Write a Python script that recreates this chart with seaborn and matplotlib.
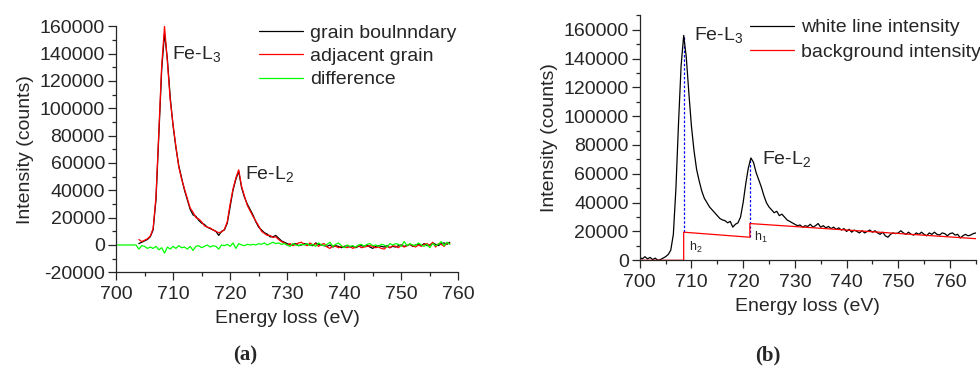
import numpy as np
import pandas as pd
import matplotlib
matplotlib.use("Agg")
import matplotlib.pyplot as plt
from matplotlib.ticker import AutoMinorLocator, MultipleLocator
import seaborn as sns

# ---------------- data (intensity in thousands of counts, 0.5 eV steps) ----------------
# panel (a): spectra from 704.0 eV to 758.5 eV
grain_boundary = [
    1, 2, 3, 4, 6, 11, 33, 80, 128, 155,
    136, 108, 87, 71, 58, 49, 40, 33, 26, 22,
    21, 18, 16, 15, 13, 12, 11, 10, 7, 10,
    11, 16, 28, 40, 48, 54, 42, 35, 30, 26,
    22, 17, 13, 11, 9, 8, 6, 6, 7, 5,
    3, 2, 1, 0, 0.5, 1, -0.5, 0, 1, 0.5,
    0, -0.5, 1.5, 0.5, 0, -0.5, -1, 0, -1.5, -0.5,
    -1, -2, -1, -0.5, -1.5, -1, -2, -1, -0.5, -1,
    0, -1.5, -2.5, -1, -0.5, -1, -1.5, -0.5, -2, -1,
    -1.5, -0.5, 0, -1, -0.5, 0.5, -1, 0, 0.5, -0.5,
    1, -0.5, 0, 1.5, 0.5, -0.5, 1, 1.5, 0.5, 2,
]
adjacent_grain = [
    4, 2.5, 3.5, 4.5, 6.5, 12, 35, 83, 131, 160,
    134, 106, 88, 72, 57, 48, 41, 34, 27, 24,
    20, 19, 17, 14, 13, 12.5, 11, 10, 9, 9.5,
    11.5, 17, 30, 41, 49, 55, 43, 36, 29, 25,
    21, 17.5, 14, 10, 8.5, 7, 7, 5.5, 6, 4,
    2.5, 1.5, 0, 1, -0.5, 0.5, 1.5, 2, 0.5, -0.5,
    1.5, 0, 1, -1, 0.5, 1, -1.5, -2.5, -0.5, -1,
    -2, -1, -1.5, -2, -1, -2.5, -1.5, -0.5, -2, -1.5,
    -1, -0.5, -1, -2, -1.5, -2.5, -3, -1, -2, -0.5,
    -1, -2, 0, -1.5, -0.5, 0.5, -0.5, -1.5, 0, -1,
    0.5, 1, -0.5, 2, -1.5, 1, 0.5, -1, 1.5, 1,
]
# difference starts at 700.0 eV
difference = [
    0, 0, 0, 0, 0, 0, 0, 0,
    -3, -0.5, -1, -2.5, -1.5, -2.5, -1, -3.5, -2, -6,
    -1.5, -3, -1, -2.5, -0.5, -2, -1.5, -3, -1, -4,
    -1, -0.5, -2, -1, 0, -1.5, -0.5, -1, -3, 0,
    -0.5, 0.5, -1, 1.5, -2.5, 1, 0, -0.5, 0.5, 0,
    0.5, 0, 1, 0.5, 1.5, 0, 1, 2, 1, 1.5,
    0.5, 1, 0, -1, 1, 0, -0.5, 0.5, 0, 1,
    -0.5, 0.5, -1, 1.5, 0, -0.5, 0.5, 2, -1, 0.5,
    1.5, -0.5, -2, 0, -1, -0.5, -1.5, 0, 0.5, -1,
    0.5, 1, -0.5, 0, -1, 0.5, 0, -1.5, 1, 0,
    1, 0.5, -1, 2.5, -0.5, 1, 0, -0.5, 1.5, 0,
    -1, 0.5, -2, 1, -0.5, 0.5, 2.5, -0.5, 2, 0.5,
]

# panel (b): white line spectrum from 700.0 eV to 765.0 eV
white_line = [
    2, 1, 2.5, 1, 2, 0.5, 1.5, 0, 0.5, 1.5,
    2.5, 4, 7, 18, 50, 95, 135, 156, 141, 116,
    93, 76, 63, 55, 48, 43, 40, 37, 35, 33,
    31, 29, 28, 27.5, 26, 27, 23, 25, 26, 30,
    40, 53, 64, 71, 68, 61, 56, 51, 45, 40,
    37, 35, 33, 34, 31, 32, 30, 28, 27, 26,
    25, 24, 24.5, 23, 24, 23.5, 25, 23, 24, 25.5,
    23, 24, 22.5, 23.5, 22, 23, 21.5, 22.5, 21, 22,
    20, 21.5, 19.5, 21, 20, 19, 20.5, 19, 20, 21,
    19.5, 20.5, 19, 18, 19.5, 17, 16, 18, 19, 18.5,
    19, 20.5, 19, 18, 19.5, 18, 17.5, 19, 18, 19.5,
    18, 17, 19, 18, 19.5, 18, 17.5, 19, 18.5, 17,
    18.5, 19, 17.5, 18, 15.5, 17, 18, 17, 17.5, 18.5,
    19,
]
# step background (eV, counts)
bg_energy = [700, 708.5, 708.5, 721.3, 721.3, 765]
bg_counts = [0, 0, 19500, 16000, 25500, 15000]
# edge markers h2 / h1
edge_energy = [708.5, 721.3]
edge_bottom = [19500, 16000]
edge_top = [156000, 70000]

df_a = pd.DataFrame({
    "E": 704 + 0.5 * np.arange(len(grain_boundary)),
    "gb": np.array(grain_boundary) * 1000,
    "adj": np.array(adjacent_grain) * 1000,
})
df_diff = pd.DataFrame({"E": 700 + 0.5 * np.arange(len(difference)),
                        "d": np.array(difference) * 1000})
df_b = pd.DataFrame({"E": 700 + 0.5 * np.arange(len(white_line)),
                     "I": np.array(white_line) * 1000})

# ---------------- style ----------------
sns.set_style("ticks")
plt.rcParams['font.family'] = ['Liberation Sans', 'DejaVu Sans']
plt.rcParams['mathtext.fontset'] = 'custom'
plt.rcParams['mathtext.rm'] = 'Liberation Sans'
plt.rcParams['mathtext.it'] = 'Liberation Sans'
plt.rcParams['axes.unicode_minus'] = False
FS = 14

fig = plt.figure(figsize=(9.8, 3.69), dpi=100)
ax1 = fig.add_axes([0.1184, 0.2620, 0.3493, 0.6667])
ax2 = fig.add_axes([0.6528, 0.2946, 0.3429, 0.6640])

lw = 0.9
sns.lineplot(data=df_a, x="E", y="gb", ax=ax1, color="black", lw=lw,
             estimator=None, sort=False, label="grain boulnndary")
sns.lineplot(data=df_a, x="E", y="adj", ax=ax1, color="red", lw=lw,
             estimator=None, sort=False, label="adjacent grain")
sns.lineplot(data=df_diff, x="E", y="d", ax=ax1, color="#00ff00", lw=lw,
             estimator=None, sort=False, label="difference")

sns.lineplot(data=df_b, x="E", y="I", ax=ax2, color="black", lw=lw,
             estimator=None, sort=False, label="white line intensity")
sns.lineplot(x=bg_energy, y=bg_counts, ax=ax2, color="red", lw=lw,
             estimator=None, sort=False, label="background intensity")
ax2.vlines(edge_energy, edge_bottom, edge_top, colors="blue", lw=0.9,
           linestyles=(0, (2, 1.5)), zorder=1)

ax1.set_xlim(700, 760)
ax1.set_ylim(-20000, 160000)
ax2.set_xlim(700, 765)
ax2.set_ylim(0, 170000)

for ax in (ax1, ax2):
    sns.despine(ax=ax)
    ax.xaxis.set_major_locator(MultipleLocator(10))
    ax.yaxis.set_major_locator(MultipleLocator(20000))
    ax.xaxis.set_minor_locator(AutoMinorLocator(2))
    ax.yaxis.set_minor_locator(AutoMinorLocator(2))
    ax.tick_params(which="major", direction="out", length=6, width=0.9, labelsize=FS)
    ax.tick_params(which="minor", direction="out", length=3, width=0.9)
    ax.tick_params(axis="x", pad=4)
    ax.tick_params(axis="y", pad=2)
    ax.set_xlabel("Energy loss (eV)", fontsize=FS, labelpad=5)
    ax.set_ylabel("Intensity (counts)", fontsize=FS, labelpad=4)
    for s in ax.spines.values():
        s.set_linewidth(0.9)

ax1.legend(frameon=False, fontsize=FS, loc="upper left",
           bbox_to_anchor=(0.264, 0.935), bbox_transform=fig.transFigure,
           borderpad=0, borderaxespad=0, handlelength=2.3, handletextpad=0.35,
           labelspacing=0.3)
ax2.legend(frameon=False, fontsize=FS, loc="upper left",
           bbox_to_anchor=(0.765, 0.949), bbox_transform=fig.transFigure,
           borderpad=0, borderaxespad=0, handlelength=2.3, handletextpad=0.35,
           labelspacing=0.35)

# peak labels
ax1.text(709.8, 136000, "Fe-L$_3$", fontsize=FS, va="baseline")
ax1.text(722.6, 48000, "Fe-L$_2$", fontsize=FS, va="baseline")
ax2.text(710.4, 153000, "Fe-L$_3$", fontsize=FS, va="baseline")
ax2.text(723.6, 66800, "Fe-L$_2$", fontsize=FS, va="baseline")
ax2.text(709.5, 6700, "h$_2$", fontsize=9, va="baseline")
ax2.text(722.1, 13600, "h$_1$", fontsize=9, va="baseline")

fig.text(245 / 980, 1 - 355 / 369, "(a)", ha="center", va="center",
         family="Liberation Serif", fontweight="bold", fontsize=15)
fig.text(768 / 980, 1 - 355 / 369, "(b)", ha="center", va="center",
         family="Liberation Serif", fontweight="bold", fontsize=15)

plt.savefig("out.png", dpi=100)
